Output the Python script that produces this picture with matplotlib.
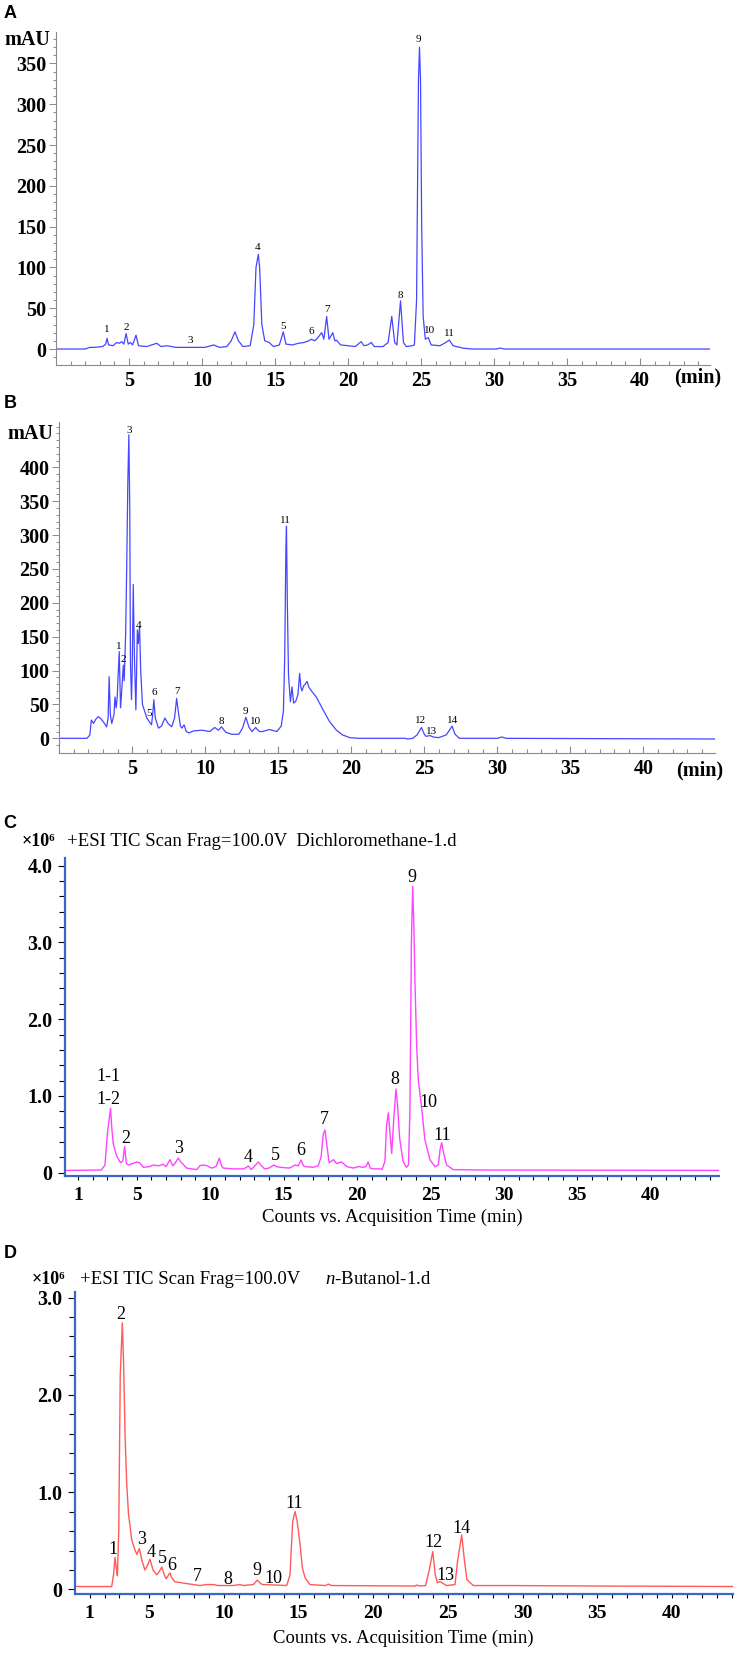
import matplotlib
matplotlib.use("Agg")
import matplotlib.pyplot as plt
import numpy as np

plt.rcParams['font.family'] = ['Liberation Serif', 'DejaVu Serif']
plt.rcParams['mathtext.fontset'] = 'custom'
plt.rcParams['mathtext.rm'] = 'Liberation Serif'
plt.rcParams['mathtext.it'] = 'Liberation Serif:italic'
plt.rcParams['mathtext.bf'] = 'Liberation Serif:bold'

# ---- Panel A: HPLC-UV, dichloromethane fraction (mAU vs min) ----
a_time = [0, 2.0, 2.3, 2.6, 3.2, 3.4, 3.5, 3.6, 3.9, 4.15, 4.35, 4.5, 4.65, 4.8, 4.95,
          5.1, 5.25, 5.48, 5.65, 6.2, 6.9, 7.2, 7.6, 8.2, 9.2, 10.2, 10.8, 11.2, 11.7,
          12.0, 12.26, 12.5, 12.8, 13.3, 13.55, 13.7, 13.86, 13.95, 14.1, 14.3, 14.6,
          14.9, 15.3, 15.57, 15.75, 16.2, 16.6, 17.0, 17.3, 17.5, 17.7, 17.9, 18.2,
          18.35, 18.54, 18.7, 18.96, 19.1, 19.2, 19.5, 20.0, 20.5, 20.9, 21.1, 21.35,
          21.6, 21.8, 22.4, 22.75, 23.0, 23.2, 23.35, 23.6, 23.8, 24.0, 24.4, 24.55,
          24.7, 24.83, 24.9, 24.97, 25.05, 25.15, 25.3, 25.5, 25.7, 26.3, 26.7, 26.94,
          27.2, 27.9, 28.5, 30.2, 30.4, 30.7, 44.8]
a_signal = [0, 0, 2, 2, 3, 6, 13, 5, 4, 8, 7, 9, 6, 19, 6,
            8, 5, 17, 4, 3, 7, 3, 4, 2, 2, 2, 5, 2, 3,
            10, 21, 10, 3, 4, 30, 100, 116, 100, 30, 10, 8,
            3, 5, 21, 6, 5, 7, 8, 10, 12, 10, 13, 20,
            12, 40, 12, 20, 10, 11, 5, 4, 3, 9, 4, 5,
            8, 3, 3, 8, 40, 8, 5, 59, 8, 3, 4, 5,
            60, 330, 370, 330, 150, 40, 12, 14, 5, 4, 8, 11,
            4, 1, 0, 0, 1.2, 0, 0]
a_labels = ['1', '2', '3', '4', '5', '6', '7', '8', '9', '10', '11']
a_label_t = [3.51, 4.8, 9.23, 13.8, 15.57, 17.47, 18.54, 23.56, 24.8, 25.6, 26.94]
a_label_h = [23.3, 26.5, 11, 124, 28, 21, 48.5, 66, 378.7, 22.5, 19.2]

# ---- Panel B: HPLC-UV, n-butanol fraction ----
b_time = [0, 1.9, 2.1, 2.2, 2.35, 2.5, 2.68, 2.85, 3.0, 3.25, 3.35, 3.42, 3.5, 3.6, 3.75,
          3.82, 3.9, 3.97, 4.05, 4.11, 4.2, 4.28, 4.39, 4.45, 4.55, 4.62, 4.7, 4.77,
          4.83, 4.88, 4.95, 5.0, 5.07, 5.15, 5.25, 5.35, 5.42, 5.5, 5.58, 5.7, 5.85,
          6.0, 6.15, 6.32, 6.4, 6.48, 6.58, 6.8, 7.0, 7.24, 7.45, 7.7, 7.9, 8.04,
          8.15, 8.3, 8.4, 8.55, 8.7, 8.9, 9.2, 9.8, 10.3, 10.65, 10.9, 11.11, 11.4,
          11.8, 12.3, 12.55, 12.78, 13.0, 13.2, 13.45, 13.7, 13.9, 14.4, 14.9, 15.2,
          15.35, 15.44, 15.52, 15.56, 15.62, 15.7, 15.83, 15.94, 16.05, 16.2, 16.35,
          16.46, 16.55, 16.62, 16.75, 16.85, 16.97, 17.1, 17.27, 17.6, 18.07, 18.5,
          18.98, 19.4, 19.9, 20.5, 23.7, 23.85, 24.2, 24.5, 24.8, 25.0, 25.1, 25.4,
          25.6, 25.97, 26.5, 26.9, 27.1, 27.4, 30.0, 30.3, 30.6, 44.9]
b_signal = [0, 0, 5, 27, 22, 28, 32, 29, 25, 17, 30, 91, 35, 22, 35,
            61, 45, 60, 100, 128, 45, 70, 108, 85, 155, 250, 380, 448,
            340, 110, 57, 100, 227, 120, 42, 160, 140, 165, 100, 50, 40,
            30, 25, 20, 35, 57, 30, 15, 18, 30, 22, 17, 30, 59,
            40, 18, 15, 20, 10, 8, 11, 12, 10, 16, 12, 17, 9,
            6, 6, 15, 31, 16, 10, 16, 10, 10, 13, 10, 18,
            40, 120, 280, 313, 200, 93, 54, 76, 52, 55, 65,
            96, 75, 70, 78, 80, 84, 75, 70, 61, 42, 25,
            12, 5, 1, 0, 0, -1, 0, 5, 16, 6, 3, 4,
            2, 1, 5, 18, 6, 0, 0, 2, 0, -1]
b_labels = ['3', '1', '2', '4', '5', '6', '7', '8', '9', '10', '11', '12', '13', '14']
b_label_t = [4.77, 4.09, 4.39, 5.41, 6.14, 6.48, 8.04, 11.11, 12.78, 13.46, 15.51, 24.75, 25.52, 26.91]
b_label_h = [455, 135, 115.6, 167, 37, 67, 69, 24.5, 39, 24.5, 322, 27, 9.8, 27]

# ---- Panel C: ESI TIC, dichloromethane fraction (x10^6 counts) ----
c_time = [0.12, 2.6, 2.84, 3.0, 3.22, 3.3, 3.4, 3.63, 3.9, 4.05, 4.18, 4.3, 4.43, 4.75,
          5.0, 5.2, 5.45, 5.9, 6.1, 6.5, 6.8, 7.0, 7.27, 7.45, 7.6, 7.83, 8.0, 8.4,
          9.08, 9.3, 9.5, 9.8, 10.1, 10.4, 10.62, 10.8, 10.9, 11.6, 12.3, 12.6, 12.8,
          13.0, 13.27, 13.5, 13.7, 14.0, 14.34, 14.5, 14.8, 15.4, 15.78, 16.0, 16.18,
          16.35, 16.45, 17.0, 17.35, 17.55, 17.7, 17.82, 17.95, 18.1, 18.4, 18.6,
          18.95, 19.3, 19.75, 20.1, 20.4, 20.6, 20.76, 20.9, 21.1, 21.55, 21.7, 21.9,
          22.0, 22.13, 22.25, 22.36, 22.5, 22.65, 22.75, 22.9, 23.13, 23.36, 23.5,
          23.6, 23.7, 23.79, 23.87, 23.94, 24.06, 24.17, 24.4, 24.62, 24.96, 25.3,
          25.53, 25.65, 25.76, 25.9, 26.1, 26.55, 28.7, 44.66]
c_signal = [0.03, 0.035, 0.1, 0.5, 0.84, 0.6, 0.38, 0.22, 0.13, 0.15, 0.34, 0.12, 0.1, 0.12,
            0.14, 0.13, 0.07, 0.08, 0.1, 0.09, 0.11, 0.08, 0.17, 0.09, 0.12, 0.19, 0.14, 0.06,
            0.04, 0.09, 0.1, 0.09, 0.06, 0.08, 0.19, 0.08, 0.06, 0.05, 0.05, 0.087, 0.04,
            0.08, 0.14, 0.09, 0.05, 0.06, 0.1, 0.08, 0.07, 0.06, 0.1, 0.09, 0.165,
            0.09, 0.08, 0.07, 0.09, 0.2, 0.5, 0.557, 0.35, 0.13, 0.17, 0.12,
            0.14, 0.08, 0.06, 0.08, 0.07, 0.08, 0.14, 0.06, 0.05, 0.05, 0.04, 0.15,
            0.6, 0.78, 0.5, 0.25, 0.7, 1.09, 0.9, 0.45, 0.15, 0.07, 0.1,
            0.8, 3.0, 3.73, 3.2, 2.51, 1.64, 1.21, 0.84, 0.43, 0.17, 0.08,
            0.1, 0.3, 0.39, 0.25, 0.1, 0.04, 0.035, 0.03]
c_labels = ['1-1', '1-2', '2', '3', '4', '5', '6', '7', '8', '9', '10', '11']
c_label_t = [3.06, 3.06, 4.27, 7.83, 12.59, 14.41, 16.18, 17.77, 22.58, 23.76, 24.85, 25.83]
c_label_h = [1.25, 0.96, 0.45, 0.32, 0.20, 0.23, 0.29, 0.69, 1.22, 3.84, 0.91, 0.49]

# ---- Panel D: ESI TIC, n-butanol fraction ----
d_time = [0.02, 2.48, 2.6, 2.7, 2.8, 2.86, 2.95, 3.05, 3.19, 3.28, 3.37, 3.48, 3.6, 3.82,
          4.0, 4.16, 4.33, 4.5, 4.7, 4.85, 5.04, 5.25, 5.49, 5.65, 5.83, 6.0, 6.12,
          6.25, 6.38, 6.5, 6.7, 7.5, 8.4, 8.8, 9.3, 9.6, 10.6, 11.07, 11.3, 11.96,
          12.23, 12.45, 12.6, 13.5, 14.2, 14.42, 14.6, 14.76, 14.9, 15.1, 15.25,
          15.43, 15.76, 16.8, 16.99, 17.2, 22.8, 22.9, 23.1, 23.5, 23.75, 23.98,
          24.15, 24.29, 24.47, 24.9, 25.47, 25.65, 25.92, 26.1, 26.27, 26.7, 29.2,
          35.0, 44.07]
d_signal = [0.03, 0.03, 0.15, 0.33, 0.2, 0.14, 0.6, 2.2, 2.74, 2.3, 1.6, 1.1, 0.78, 0.51,
            0.42, 0.36, 0.42, 0.3, 0.2, 0.24, 0.31, 0.2, 0.15, 0.18, 0.23, 0.15, 0.11,
            0.14, 0.17, 0.12, 0.08, 0.06, 0.04, 0.05, 0.05, 0.04, 0.04, 0.05, 0.04, 0.05,
            0.096, 0.06, 0.05, 0.045, 0.04, 0.15, 0.7, 0.8, 0.7, 0.45, 0.22,
            0.12, 0.05, 0.04, 0.055, 0.04, 0.035, 0.045, 0.035, 0.04, 0.2, 0.39,
            0.15, 0.07, 0.08, 0.04, 0.05, 0.3, 0.56, 0.3, 0.1, 0.04, 0.04,
            0.035, 0.03]
d_labels = ['1', '2', '3', '4', '5', '6', '7', '8', '9', '10', '11', '12', '13', '14']
d_label_t = [2.59, 3.08, 4.49, 5.11, 5.87, 6.5, 8.21, 10.27, 12.23, 13.3, 14.69, 24.02, 24.8, 25.92]
d_label_h = [0.41, 2.83, 0.51, 0.38, 0.32, 0.25, 0.13, 0.106, 0.19, 0.113, 0.88, 0.48, 0.147, 0.63]

W, H = 737, 1653
fig = plt.figure(figsize=(W / 100, H / 100), dpi=100)


def box(left, right, top, bottom):
    # pixel box -> figure fraction rect
    return [left / W, 1 - bottom / H, (right - left) / W, (bottom - top) / H]


def ftext(x, y, s, **kw):
    fig.text(x / W, 1 - y / H, s, **kw)


def bold_ticks(ax):
    plt.setp(ax.get_xticklabels() + ax.get_yticklabels(), fontweight='bold')


GREY = '#8a8a8a'
BLUE_AX = '#3a66c8'


def hplc_axes(ax, xmax, ylim, ymax_tick):
    ax.set_xlim(0, xmax)
    ax.set_ylim(*ylim)
    for s in ['top', 'right']:
        ax.spines[s].set_visible(False)
    for s in ['left', 'bottom']:
        ax.spines[s].set_color(GREY)
        ax.spines[s].set_linewidth(0.8)
    ax.set_xticks(np.arange(5, 41, 5))
    ax.set_xticks(np.arange(1, 45, 1), minor=True)
    ax.set_yticks(np.arange(0, ymax_tick + 1, 50))
    ax.set_yticks(np.arange(-10, ylim[1], 10), minor=True)
    ax.tick_params(axis='x', which='both', direction='in', color=GREY, width=0.8,
                   labelsize=14.5, pad=4)
    ax.tick_params(axis='x', which='major', length=5)
    ax.tick_params(axis='x', which='minor', length=3)
    ax.tick_params(axis='y', which='both', direction='out', color=GREY, width=0.7,
                   labelsize=14.5, pad=2)
    ax.tick_params(axis='y', which='major', length=5)
    ax.tick_params(axis='y', which='minor', length=2.5)
    bold_ticks(ax)


def ms_axes(ax, xlim, ylim, ymax_tick):
    ax.set_xlim(*xlim)
    ax.set_ylim(*ylim)
    for s in ['top', 'right']:
        ax.spines[s].set_visible(False)
    for s in ['left', 'bottom']:
        ax.spines[s].set_color(BLUE_AX)
        ax.spines[s].set_linewidth(1.6)
    ax.set_xticks([1, 5, 10, 15, 20, 25, 30, 35, 40])
    ax.set_xticks(np.arange(1, 45, 1), minor=True)
    ax.set_yticks(np.arange(0, ymax_tick + 0.01, 1.0))
    ax.set_yticklabels(['0'] + ['%.1f' % v for v in np.arange(1, ymax_tick + 0.01, 1.0)])
    ax.set_yticks(np.arange(0, ylim[1], 0.2), minor=True)
    ax.tick_params(axis='x', which='both', direction='out', color='black', width=0.8,
                   length=3, labelsize=14, pad=5)
    ax.tick_params(axis='y', which='both', direction='out', color='black', width=0.8,
                   labelsize=14.5, pad=4)
    ax.tick_params(axis='y', which='major', length=5)
    ax.tick_params(axis='y', which='minor', length=4)
    bold_ticks(ax)


# Panel A
axA = fig.add_axes(box(56, 710, 32, 365))
axA.plot(a_time, a_signal, color='#4646ff', lw=0.9)
hplc_axes(axA, 44.8, (-19.6, 388.5), 350)
for s, t, h in zip(a_labels, a_label_t, a_label_h):
    axA.text(t, h, s, ha='center', va='center', fontsize=8)
ftext(50, 40, 'mAU', ha='right', va='center', fontsize=14.5, fontweight='bold')
ftext(698, 377, '(min)', ha='center', va='center', fontsize=14.5, fontweight='bold')
ftext(10, 14, 'A', ha='center', va='center', fontsize=13, fontweight='bold',
      family='Liberation Sans')

# Panel B
axB = fig.add_axes(box(59.2, 715, 421.7, 753.3))
axB.plot(b_time, b_signal, color='#4646ff', lw=0.9)
hplc_axes(axB, 44.9, (-22.1, 467.3), 400)
for s, t, h in zip(b_labels, b_label_t, b_label_h):
    axB.text(t, h, s, ha='center', va='center', fontsize=8)
ftext(53, 434, 'mAU', ha='right', va='center', fontsize=14.5, fontweight='bold')
ftext(700, 770, '(min)', ha='center', va='center', fontsize=14.5, fontweight='bold')
ftext(10, 403, 'B', ha='center', va='center', fontsize=13, fontweight='bold',
      family='Liberation Sans')

# Panel C
axC = fig.add_axes(box(65, 719.3, 858, 1176))
axC.plot(c_time, c_signal, color='#ff44ff', lw=1.0)
ms_axes(axC, (0.12, 44.66), (-0.043, 4.10), 4.0)
for s, t, h in zip(c_labels, c_label_t, c_label_h):
    axC.text(t, h, s, ha='center', va='center', fontsize=13)
ftext(22, 842, '×10⁶', ha='left', va='center', fontsize=13, fontweight='bold',
      family=['Liberation Serif', 'DejaVu Serif'])
ftext(67, 842, '+ESI TIC Scan Frag=100.0V  Dichloromethane-1.d', ha='left',
      va='center', fontsize=13.5)
ftext(392, 1217, 'Counts vs. Acquisition Time (min)', ha='center', va='center',
      fontsize=13.5)
ftext(10, 823, 'C', ha='center', va='center', fontsize=13, fontweight='bold',
      family='Liberation Sans')

# Panel D
axD = fig.add_axes(box(75, 732.7, 1291.7, 1594.3))
axD.plot(d_time, d_signal, color='#ff5a5a', lw=1.0)
ms_axes(axD, (0.02, 44.07), (-0.05, 3.06), 3.0)
for s, t, h in zip(d_labels, d_label_t, d_label_h):
    axD.text(t, h, s, ha='center', va='center', fontsize=13)
ftext(32, 1279, '×10⁶', ha='left', va='center', fontsize=13, fontweight='bold',
      family=['Liberation Serif', 'DejaVu Serif'])
ftext(80, 1280, '+ESI TIC Scan Frag=100.0V', ha='left', va='center', fontsize=13.5)
ftext(325, 1280, '$\\mathit{n}$-Butanol-1.d', ha='left', va='center', fontsize=13.5)
ftext(403, 1638, 'Counts vs. Acquisition Time (min)', ha='center', va='center',
      fontsize=13.5)
ftext(10, 1254, 'D', ha='center', va='center', fontsize=13, fontweight='bold',
      family='Liberation Sans')

fig.savefig('out.png', dpi=100)
